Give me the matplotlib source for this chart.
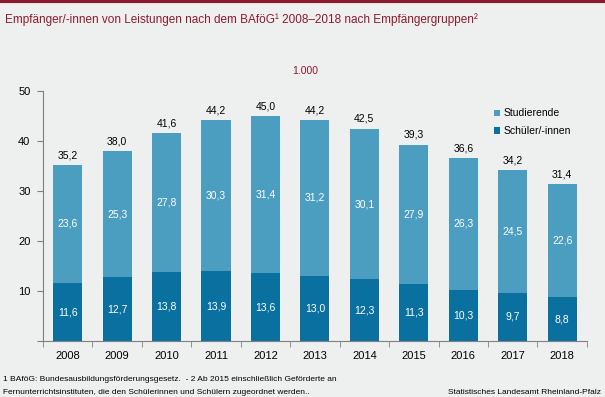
import matplotlib
matplotlib.use("Agg")
import matplotlib.pyplot as plt
import numpy as np

plt.rcParams['font.family'] = ['Liberation Sans', 'DejaVu Sans']

years = ['2008', '2009', '2010', '2011', '2012', '2013', '2014', '2015', '2016', '2017', '2018']
schueler = [11.6, 12.7, 13.8, 13.9, 13.6, 13.0, 12.3, 11.3, 10.3, 9.7, 8.8]
studierende = [23.6, 25.3, 27.8, 30.3, 31.4, 31.2, 30.1, 27.9, 26.3, 24.5, 22.6]
totals = [35.2, 38.0, 41.6, 44.2, 45.0, 44.2, 42.5, 39.3, 36.6, 34.2, 31.4]

bg = '#eef0ef'
red = '#8b1a2e'
c_stud = '#4c9ec0'
c_sch = '#0a70a0'

fig = plt.figure(figsize=(6.05, 3.97), dpi=100, facecolor=bg)
ax = fig.add_axes([0.071, 0.141, 0.899, 0.630])
ax.set_facecolor(bg)

x = np.arange(len(years))
ax.bar(x, schueler, width=0.59, color=c_sch, label='Schüler/-innen')
ax.bar(x, studierende, width=0.59, bottom=schueler, color=c_stud, label='Studierende')

def fmt(v):
    return ('%.1f' % v).replace('.', ',')

for i in range(len(years)):
    ax.text(x[i], schueler[i] / 2, fmt(schueler[i]), ha='center', va='center',
            color='white', fontsize=7.5)
    ax.text(x[i], schueler[i] + studierende[i] / 2, fmt(studierende[i]), ha='center',
            va='center', color='white', fontsize=7.5)
    ax.text(x[i], totals[i] + 0.9, fmt(totals[i]), ha='center', va='bottom',
            color='black', fontsize=7.5)

ax.set_xlim(-0.5, len(years) - 0.5)
ax.set_ylim(0, 50)
ax.set_yticks([0, 10, 20, 30, 40, 50])
ax.set_yticklabels(['', '10', '20', '30', '40', '50'])
ax.set_xticks(x)
ax.set_xticklabels(years, fontsize=8)
ax.tick_params(axis='x', length=0, pad=7)
ax.set_xticks(np.arange(-0.5, len(years)), minor=True)
ax.tick_params(axis='x', which='minor', length=4, color='#808080', direction='out')
ax.tick_params(axis='y', labelsize=8, length=4, color='#808080', direction='out', pad=5)
for s in ['top', 'right']:
    ax.spines[s].set_visible(False)
for s in ['left', 'bottom']:
    ax.spines[s].set_color('#808080')

handles, labels = ax.get_legend_handles_labels()
leg = ax.legend(handles[::-1], labels[::-1], loc='upper left', bbox_to_anchor=(0.829, 0.93),
                frameon=False, fontsize=7.5, handlelength=0.55, handleheight=0.55,
                handletextpad=0.4, labelspacing=0.75, borderpad=0, borderaxespad=0)

# top rule and texts
fig.add_artist(plt.Line2D([0, 1], [0.997, 0.997], color=red, lw=3, transform=fig.transFigure))
fig.text(0.008, 0.95, 'Empfänger/-innen von Leistungen nach dem BAföG¹ 2008–2018 nach Empfängergruppen²',
         color=red, fontsize=8.5, va='center', ha='left')
fig.text(0.505, 0.822, '1.000', color=red, fontsize=7.5, ha='center', va='center')
fig.text(0.005, 0.045, '1 BAföG: Bundesausbildungsförderungsgesetz.  - 2 Ab 2015 einschließlich Geförderte an',
         fontsize=6, ha='left', va='center')
fig.text(0.005, 0.012, 'Fernunterrichtsinstituten, die den Schülerinnen und Schülern zugeordnet werden..',
         fontsize=6, ha='left', va='center')
fig.text(0.993, 0.012, 'Statistisches Landesamt Rheinland-Pfalz', fontsize=6, ha='right', va='center')

fig.savefig('out.png', dpi=100, facecolor=bg)
